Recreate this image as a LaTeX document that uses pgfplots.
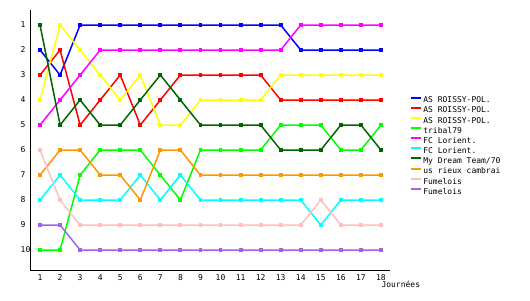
\documentclass[border=0pt]{standalone}
\usepackage{fontspec}
\setmonofont{DejaVu Sans Mono}
\usepackage{pgfplots}
\pgfplotsset{compat=1.18}
\definecolor{cBlue}{RGB}{0,0,255}
\definecolor{cRed}{RGB}{255,0,0}
\definecolor{cYellow}{RGB}{255,255,0}
\definecolor{cGreen}{RGB}{0,255,0}
\definecolor{cMagenta}{RGB}{255,0,255}
\definecolor{cCyan}{RGB}{0,255,255}
\definecolor{cDkGreen}{RGB}{0,100,0}
\definecolor{cOrange}{RGB}{255,150,0}
\definecolor{cPink}{RGB}{255,192,192}
\definecolor{cPurple}{RGB}{160,96,240}
\begin{document}
\begin{tikzpicture}[x=1pt,y=1pt]
\path[use as bounding box] (0,0) rectangle (530,300);
\begin{axis}[
  at={(30pt,30pt)}, anchor=south west,
  scale only axis, width=360pt, height=260pt,
  xmin=0.5, xmax=18.45, ymin=0.4, ymax=10.8,
  y dir=reverse,
  axis lines=left,
  axis line style={-, line width=1pt, black},
  xtick={1,...,18}, ytick={1,...,10},
  major tick length=0pt,
  tick label style={font=\ttfamily\fontsize{8}{9}\selectfont},
  /pgf/number format/assume math mode=true,
  yticklabel style={anchor=west, inner xsep=0pt, xshift=-9.5pt},
  xticklabel style={yshift=-1pt},
  xlabel={Journées},
  xlabel style={font=\ttfamily\fontsize{8}{9}\selectfont, at={(axis description cs:1.03,-0.055)}, anchor=center},
  every axis plot/.append style={line width=1.5pt, mark=square*, mark size=1.2pt},
  legend style={at={(axis description cs:1.056,0.67)}, anchor=north west, draw=none, fill=none,
    font=\ttfamily\fontsize{8}{9}\selectfont, row sep=0.6pt, inner sep=0pt,
    nodes={inner sep=1pt}},
  legend cell align=left,
  legend image code/.code={\draw[#1, line width=2pt] (0pt,3pt) -- (10pt,3pt);},
]
\addplot[cBlue] coordinates {(1,2)(2,3)(3,1)(4,1)(5,1)(6,1)(7,1)(8,1)(9,1)(10,1)(11,1)(12,1)(13,1)(14,2)(15,2)(16,2)(17,2)(18,2)};
\addlegendentry{AS ROISSY-POL.}
\addplot[cRed] coordinates {(1,3)(2,2)(3,5)(4,4)(5,3)(6,5)(7,4)(8,3)(9,3)(10,3)(11,3)(12,3)(13,4)(14,4)(15,4)(16,4)(17,4)(18,4)};
\addlegendentry{AS ROISSY-POL.}
\addplot[cYellow] coordinates {(1,4)(2,1)(3,2)(4,3)(5,4)(6,3)(7,5)(8,5)(9,4)(10,4)(11,4)(12,4)(13,3)(14,3)(15,3)(16,3)(17,3)(18,3)};
\addlegendentry{AS ROISSY-POL.}
\addplot[cGreen] coordinates {(1,10)(2,10)(3,7)(4,6)(5,6)(6,6)(7,7)(8,8)(9,6)(10,6)(11,6)(12,6)(13,5)(14,5)(15,5)(16,6)(17,6)(18,5)};
\addlegendentry{tribal79}
\addplot[cMagenta] coordinates {(1,5)(2,4)(3,3)(4,2)(5,2)(6,2)(7,2)(8,2)(9,2)(10,2)(11,2)(12,2)(13,2)(14,1)(15,1)(16,1)(17,1)(18,1)};
\addlegendentry{FC Lorient.}
\addplot[cCyan] coordinates {(1,8)(2,7)(3,8)(4,8)(5,8)(6,7)(7,8)(8,7)(9,8)(10,8)(11,8)(12,8)(13,8)(14,8)(15,9)(16,8)(17,8)(18,8)};
\addlegendentry{FC Lorient.}
\addplot[cDkGreen] coordinates {(1,1)(2,5)(3,4)(4,5)(5,5)(6,4)(7,3)(8,4)(9,5)(10,5)(11,5)(12,5)(13,6)(14,6)(15,6)(16,5)(17,5)(18,6)};
\addlegendentry{My Dream Team/70}
\addplot[cOrange] coordinates {(1,7)(2,6)(3,6)(4,7)(5,7)(6,8)(7,6)(8,6)(9,7)(10,7)(11,7)(12,7)(13,7)(14,7)(15,7)(16,7)(17,7)(18,7)};
\addlegendentry{us rieux cambrai}
\addplot[cPink] coordinates {(1,6)(2,8)(3,9)(4,9)(5,9)(6,9)(7,9)(8,9)(9,9)(10,9)(11,9)(12,9)(13,9)(14,9)(15,8)(16,9)(17,9)(18,9)};
\addlegendentry{Fumelois}
\addplot[cPurple] coordinates {(1,9)(2,9)(3,10)(4,10)(5,10)(6,10)(7,10)(8,10)(9,10)(10,10)(11,10)(12,10)(13,10)(14,10)(15,10)(16,10)(17,10)(18,10)};
\addlegendentry{Fumelois}
\end{axis}
\end{tikzpicture}
\end{document}
